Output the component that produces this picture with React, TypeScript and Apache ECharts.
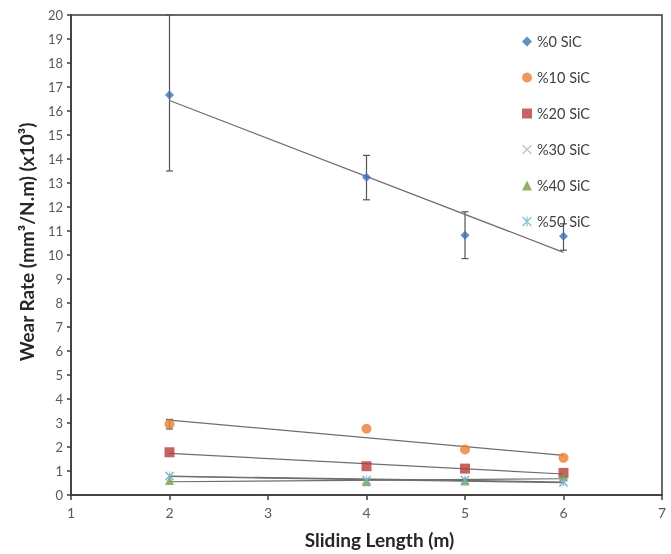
import React, { useEffect, useRef } from "react";
import * as echarts from "echarts";

const xValues = [2, 4, 5, 6];
const seriesNames = ["%0 SiC", "%10 SiC", "%20 SiC", "%30 SiC", "%40 SiC", "%50 SiC"];
const sic0 = [16.67, 13.24, 10.82, 10.78];
const sic10 = [2.96, 2.76, 1.9, 1.55];
const sic20 = [1.78, 1.2, 1.1, 0.92];
const sic30 = [0.78, 0.6, 0.62, 0.5];
const sic40 = [0.6, 0.55, 0.58, 0.76];
const sic50 = [0.8, 0.62, 0.62, 0.55];
const err0Low = [13.5, 12.3, 9.85, 10.2];
const err0High = [20, 14.15, 11.8, 11.3];
const err10Low = [2.75];
const err10High = [3.15];

const colors = ["#3f6fb8", "#ec7d31", "#b83c3c", "#b4b4cc", "#76a03c", "#6ab7cf"];
const X_PATH = "path://M0,1 L1,0 L10,9 L9,10 Z M9,0 L10,1 L1,10 L0,9 Z";
const AST_PATH = "path://M0,1 L1,0 L10,9 L9,10 Z M9,0 L10,1 L1,10 L0,9 Z M4.4,0 L5.6,0 L5.6,10 L4.4,10 Z";
const symbols = ["diamond", "circle", "rect", X_PATH, "triangle", AST_PATH];
const symbolSizes = [9, 10, 10, 9, 9, 9];

function trend(xs: number[], ys: number[]) {
  const n = xs.length;
  const mx = xs.reduce((a, b) => a + b, 0) / n;
  const my = ys.reduce((a, b) => a + b, 0) / n;
  let sxy = 0, sxx = 0;
  for (let i = 0; i < n; i++) {
    sxy += (xs[i] - mx) * (ys[i] - my);
    sxx += (xs[i] - mx) * (xs[i] - mx);
  }
  const b = sxy / sxx;
  const a = my - b * mx;
  const x0 = Math.min(...xs), x1 = Math.max(...xs);
  return [[x0, a + b * x0], [x1, a + b * x1]];
}

export default function App() {
  const ref = useRef<HTMLDivElement>(null);
  useEffect(() => {
    if (!ref.current) return;
    const chart = echarts.init(ref.current, null, { renderer: "svg" });
    const all = [sic0, sic10, sic20, sic30, sic40, sic50];
    const scatterSeries = all.map((vals, i) => ({
      name: seriesNames[i],
      type: "scatter",
      symbol: symbols[i],
      symbolSize: symbolSizes[i],
      itemStyle: { color: colors[i] },
      data: vals.map((v, j) => [xValues[j], v]),
      z: 5,
    }));
    const trendSeries = all.map((vals) => ({
      type: "line",
      data: trend(xValues, vals),
      symbol: "none",
      lineStyle: { color: "#6e6e6e", width: 1.2 },
      silent: true,
      z: 4,
    }));
    const errData: number[][] = [];
    xValues.forEach((x, j) => errData.push([x, err0Low[j], err0High[j]]));
    err10Low.forEach((l, j) => errData.push([xValues[j], l, err10High[j]]));
    const errorSeries = {
      type: "custom",
      silent: true,
      z: 3,
      encode: { x: 0, y: [1, 2] },
      data: errData,
      renderItem: (params: any, api: any) => {
        const x = api.value(0);
        const lo = api.coord([x, api.value(1)]);
        const hi = api.coord([x, api.value(2)]);
        const style = { stroke: "#555555", lineWidth: 1.2 };
        const w = 3.5;
        return {
          type: "group",
          children: [
            { type: "line", shape: { x1: lo[0], y1: lo[1], x2: hi[0], y2: hi[1] }, style },
            { type: "line", shape: { x1: lo[0] - w, y1: lo[1], x2: lo[0] + w, y2: lo[1] }, style },
            { type: "line", shape: { x1: hi[0] - w, y1: hi[1], x2: hi[0] + w, y2: hi[1] }, style },
          ],
        };
      },
    };
    chart.setOption({
      animation: false,
      textStyle: { fontFamily: "Lato" },
      grid: {
        left: 71,
        right: 9,
        top: 15,
        bottom: 57,
        show: true,
        borderColor: "#3a3a3a",
        borderWidth: 1.5,
      },
      legend: {
        orient: "vertical",
        left: 517,
        top: 29,
        itemGap: 21,
        itemWidth: 10,
        itemHeight: 10,
        selectedMode: false,
        textStyle: { fontFamily: "Lato", fontSize: 14.5, color: "#404040", lineHeight: 15 },
        data: seriesNames.map((n, i) => ({ name: n, icon: symbols[i] })),
      },
      xAxis: {
        type: "value",
        min: 1,
        max: 7,
        interval: 1,
        splitLine: { show: false },
        axisLine: { lineStyle: { color: "#3a3a3a", width: 1.5 } },
        axisTick: { inside: false, length: 5, lineStyle: { color: "#3a3a3a", width: 1.5 } },
        axisLabel: { color: "#595959", fontSize: 14, margin: 10, fontFamily: "Lato" },
        name: "Sliding Length (m)",
        nameLocation: "middle",
        nameGap: 35,
        nameTextStyle: { fontSize: 19, fontWeight: "bold", color: "#262626", fontFamily: "Lato", padding: [0, 0, 0, 26] },
      },
      yAxis: {
        type: "value",
        min: 0,
        max: 20,
        interval: 1,
        splitLine: { show: false },
        axisLine: { lineStyle: { color: "#3a3a3a", width: 1.5 } },
        axisTick: { inside: false, length: 4, lineStyle: { color: "#3a3a3a", width: 1.5 } },
        axisLabel: { color: "#595959", fontSize: 13, margin: 8, fontFamily: "Lato" },
        name: "Wear Rate (mm³/N.m) (x10³)",
        nameLocation: "middle",
        nameGap: 35,
        nameTextStyle: { fontSize: 19, fontWeight: "bold", color: "#262626", fontFamily: "Lato", padding: [0, 0, 0, 26] },
      },
      series: [errorSeries, ...trendSeries, ...scatterSeries],
    });
    return () => chart.dispose();
  }, []);
  return <div ref={ref} style={{ width: 671, height: 554, position: "fixed", left: 0, top: 0 }} />;
}
